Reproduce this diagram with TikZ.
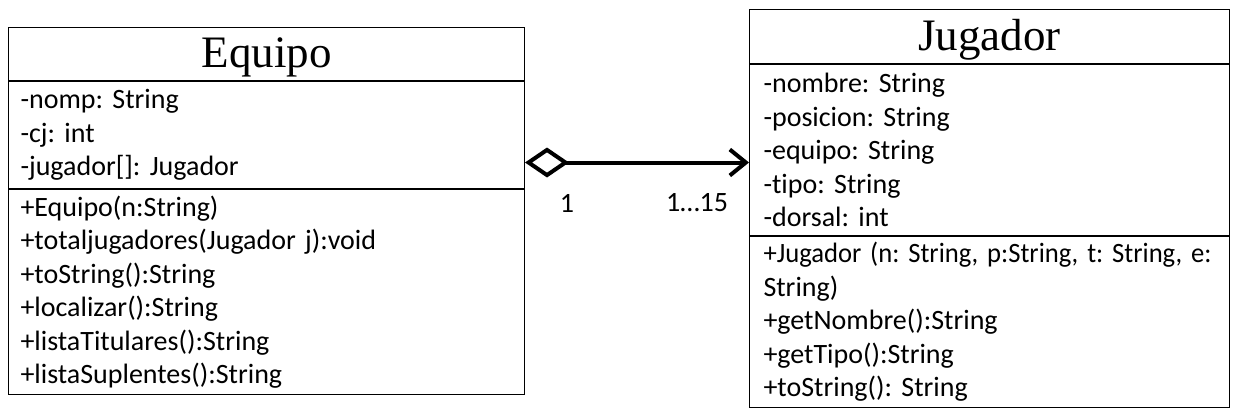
\documentclass[tikz,border=0pt]{standalone}
\usepackage{fontspec}
\setmainfont{Carlito}[Ligatures=NoCommon]
\newfontfamily\titlefont{Liberation Serif}
\frenchspacing
\newcommand\tightspace{\spaceskip=4.5pt plus 1pt\relax}
\usetikzlibrary{arrows.meta, positioning}

\tikzset{
  classhead/.style={draw, line width=1pt, anchor=north west, inner sep=0pt,
    text height=36pt, text depth=9pt,
    font=\titlefont\fontsize{45pt}{50pt}\selectfont},
  classpart/.style={draw, line width=1pt, anchor=north west, inner ysep=0pt,
    align=left, font=\fontsize{28pt}{33.5pt}\selectfont\tightspace},
  assoc/.style={line width=4pt, {Diamond[open,length=44pt,width=30pt]}-{Straight Barb[length=16pt,width=26pt]}},
  mult/.style={font=\fontsize{28pt}{32pt}\selectfont}
}

\begin{document}
\begin{tikzpicture}[x=1pt,y=-1pt]
    \useasboundingbox (0,0) rectangle (1237,415);
    % Equipo
    \node[classhead, minimum width=516pt, minimum height=53pt] (equipo) at (8,27) {Equipo};
    \node[classpart, inner xsep=12pt, text width=492pt, minimum height=107pt] (equipoattr) at (equipo.south west)
      {-nomp: String\\-cj: int\\-jugador[]: Jugador};
    \node[classpart, inner xsep=12pt, text width=492pt, minimum height=205pt] (equipometh) at (equipoattr.south west)
      {+Equipo(n:String)\\+totaljugadores(Jugador j):void\\+toString():String\\+localizar():String\\+listaTitulares():String\\+listaSuplentes():String};
    % Jugador
    \node[classhead, minimum width=480pt, minimum height=54pt] (jugador) at (749,9) {Jugador};
    \node[classpart, inner xsep=14pt, text width=452pt, minimum height=171pt] (jugadorattr) at (jugador.south west)
      {-nombre: String\\-posicion: String\\-equipo: String\\-tipo: String\\-dorsal: int};
    \node[classpart, inner xsep=14pt, text width=452pt, minimum height=171pt] (jugadormeth) at (jugadorattr.south west)
      {\resizebox{448pt}{\height}{+Jugador (n: String, p:String, t: String, e:}\\String)\\+getNombre():String\\+getTipo():String\\+toString(): String};
    % asociacion
    \draw[assoc] ([yshift=-27.5pt]equipoattr.east) -- ([yshift=-12.5pt]jugadorattr.west);
    \node[mult] (multequipo) at (567,203) {1};
    \node[mult] (multjugador) at (697,203) {1…15};
  \end{tikzpicture}
\end{document}
